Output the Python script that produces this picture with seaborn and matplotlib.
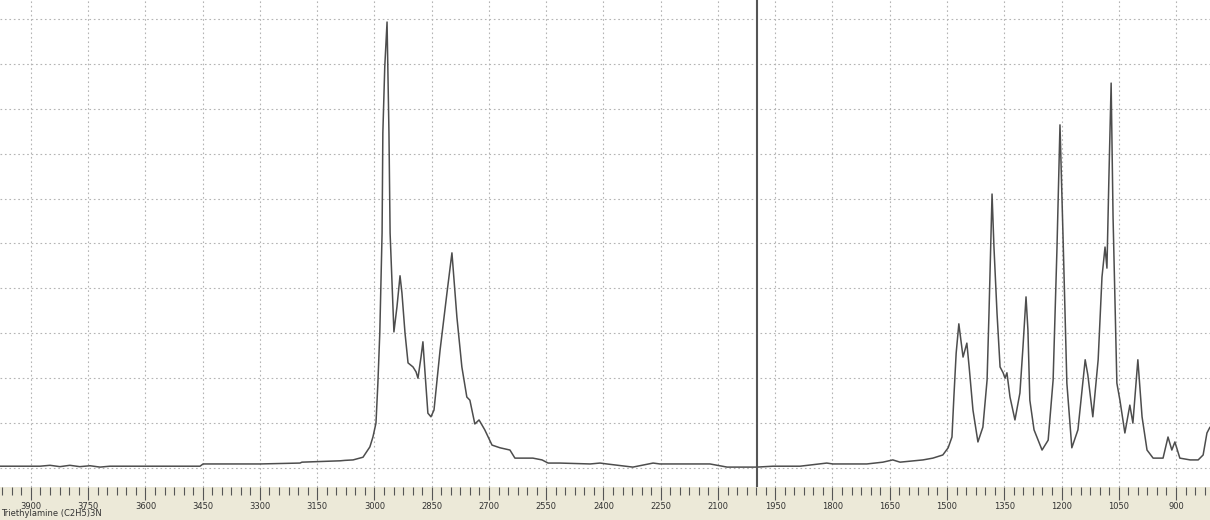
import numpy as np
import pandas as pd
import matplotlib
matplotlib.use("Agg")
import matplotlib.pyplot as plt
import seaborn as sns

# IR spectrum of triethylamine
wavenumber = [
    3981, 3876, 3850, 3824, 3798, 3772, 3745, 3719, 3693, 3660, 3457, 3449, 3300, 3195,
    3190, 3090, 3077, 3056, 3030, 3012, 3004, 2996, 2991, 2986, 2980, 2978,
    2973, 2967, 2965, 2962, 2959, 2954, 2949, 2941, 2933, 2928, 2920, 2912,
    2899, 2891, 2886, 2878, 2873, 2868, 2860, 2852, 2844, 2828, 2810, 2797,
    2784, 2771, 2758, 2750, 2737, 2726, 2711, 2692, 2671, 2645, 2632, 2585,
    2561, 2545, 2514, 2435, 2409, 2391, 2323, 2270, 2252, 2181, 2121, 2076,
    1998, 1956, 1885, 1815, 1799, 1710, 1668, 1642, 1623, 1563, 1537, 1511,
    1497, 1487, 1482, 1476, 1469, 1458, 1448, 1442, 1432, 1419, 1406, 1395,
    1390, 1382, 1377, 1369, 1361, 1353, 1348, 1343, 1335, 1322, 1309, 1301,
    1293, 1288, 1283, 1272, 1251, 1235, 1222, 1212, 1204, 1196, 1186, 1173,
    1157, 1146, 1138, 1131, 1118, 1104, 1094, 1086, 1081, 1076, 1070, 1065,
    1055, 1047, 1034, 1021, 1013, 1000, 989, 976, 960, 934, 921, 911,
    903, 890, 863, 842, 829, 819, 811,
]
absorbance = [
    0.004, 0.004, 0.006, 0.003, 0.006, 0.003, 0.005, 0.002, 0.004, 0.004, 0.004, 0.009, 0.009, 0.011,
    0.013, 0.016, 0.017, 0.018, 0.024, 0.047, 0.069, 0.100, 0.189, 0.301, 0.523, 0.746,
    0.893, 0.993, 0.893, 0.746, 0.523, 0.412, 0.303, 0.359, 0.428, 0.390, 0.301, 0.234,
    0.225, 0.214, 0.200, 0.247, 0.281, 0.218, 0.122, 0.114, 0.129, 0.263, 0.390, 0.479,
    0.336, 0.225, 0.158, 0.151, 0.098, 0.107, 0.085, 0.051, 0.045, 0.040, 0.022, 0.022,
    0.018, 0.011, 0.011, 0.009, 0.011, 0.009, 0.002, 0.011, 0.009, 0.009, 0.009, 0.002,
    0.002, 0.004, 0.004, 0.011, 0.009, 0.009, 0.013, 0.018, 0.013, 0.018, 0.022, 0.029,
    0.045, 0.069, 0.158, 0.256, 0.321, 0.247, 0.278, 0.225, 0.129, 0.058, 0.091, 0.196,
    0.345, 0.610, 0.492, 0.345, 0.225, 0.212, 0.200, 0.212, 0.158, 0.107, 0.167, 0.269,
    0.381, 0.307, 0.151, 0.085, 0.040, 0.062, 0.196, 0.486, 0.764, 0.514, 0.189, 0.045,
    0.085, 0.174, 0.241, 0.207, 0.114, 0.241, 0.425, 0.492, 0.445, 0.641, 0.857, 0.559,
    0.189, 0.151, 0.078, 0.140, 0.100, 0.241, 0.114, 0.040, 0.022, 0.022, 0.069, 0.040,
    0.058, 0.022, 0.018, 0.018, 0.029, 0.078, 0.091,
]
major_ticks = [3900, 3750, 3600, 3450, 3300, 3150, 3000, 2850, 2700, 2550,
               2400, 2250, 2100, 1950, 1800, 1650, 1500, 1350, 1200, 1050, 900]
cursor_pos = 1998
sample_name = "Triethylamine (C2H5)3N"

df = pd.DataFrame({"wavenumber": wavenumber, "absorbance": absorbance})

sns.set_style("white")
fig = plt.figure(figsize=(12.1, 5.2), dpi=100)
fig.patch.set_facecolor("#ece9d8")
ax = fig.add_axes([0, 33 / 520, 1, 487 / 520])
ax.set_facecolor("white")

sns.lineplot(data=df, x="wavenumber", y="absorbance", ax=ax, estimator=None,
             sort=False, color="#4d4d4d", linewidth=1.1)
ax.axvline(cursor_pos, color="#555555", linewidth=1.5)

ax.set_xlim(3981, 811)
ax.set_ylim(-0.0423, 1.042)

ax.set_xticks(major_ticks)
ax.set_xticklabels([str(t) for t in major_ticks])
ax.set_xticks(np.arange(3975, 800, -25), minor=True)
ax.set_yticks(np.arange(0, 1.01, 0.1))
ax.set_yticklabels([])
ax.tick_params(axis="x", which="both", bottom=True)
ax.tick_params(axis="x", which="major", direction="out", length=9, width=0.8,
               color="#555555", labelsize=6, labelcolor="#333333", pad=1.5)
ax.tick_params(axis="x", which="minor", direction="out", length=6, width=0.8,
               color="#555555")
ax.tick_params(axis="y", length=0)
ax.grid(True, which="major", color="#b4b4b4", linestyle=(0, (1.5, 2.5)), linewidth=0.8)
ax.set_xlabel("")
ax.set_ylabel("")
for s in ax.spines.values():
    s.set_visible(False)

fig.text(1 / 1210, 1 - 514 / 520, sample_name, ha="left", va="center",
         fontsize=6, color="#333333")

fig.savefig("out.png", dpi=100)
